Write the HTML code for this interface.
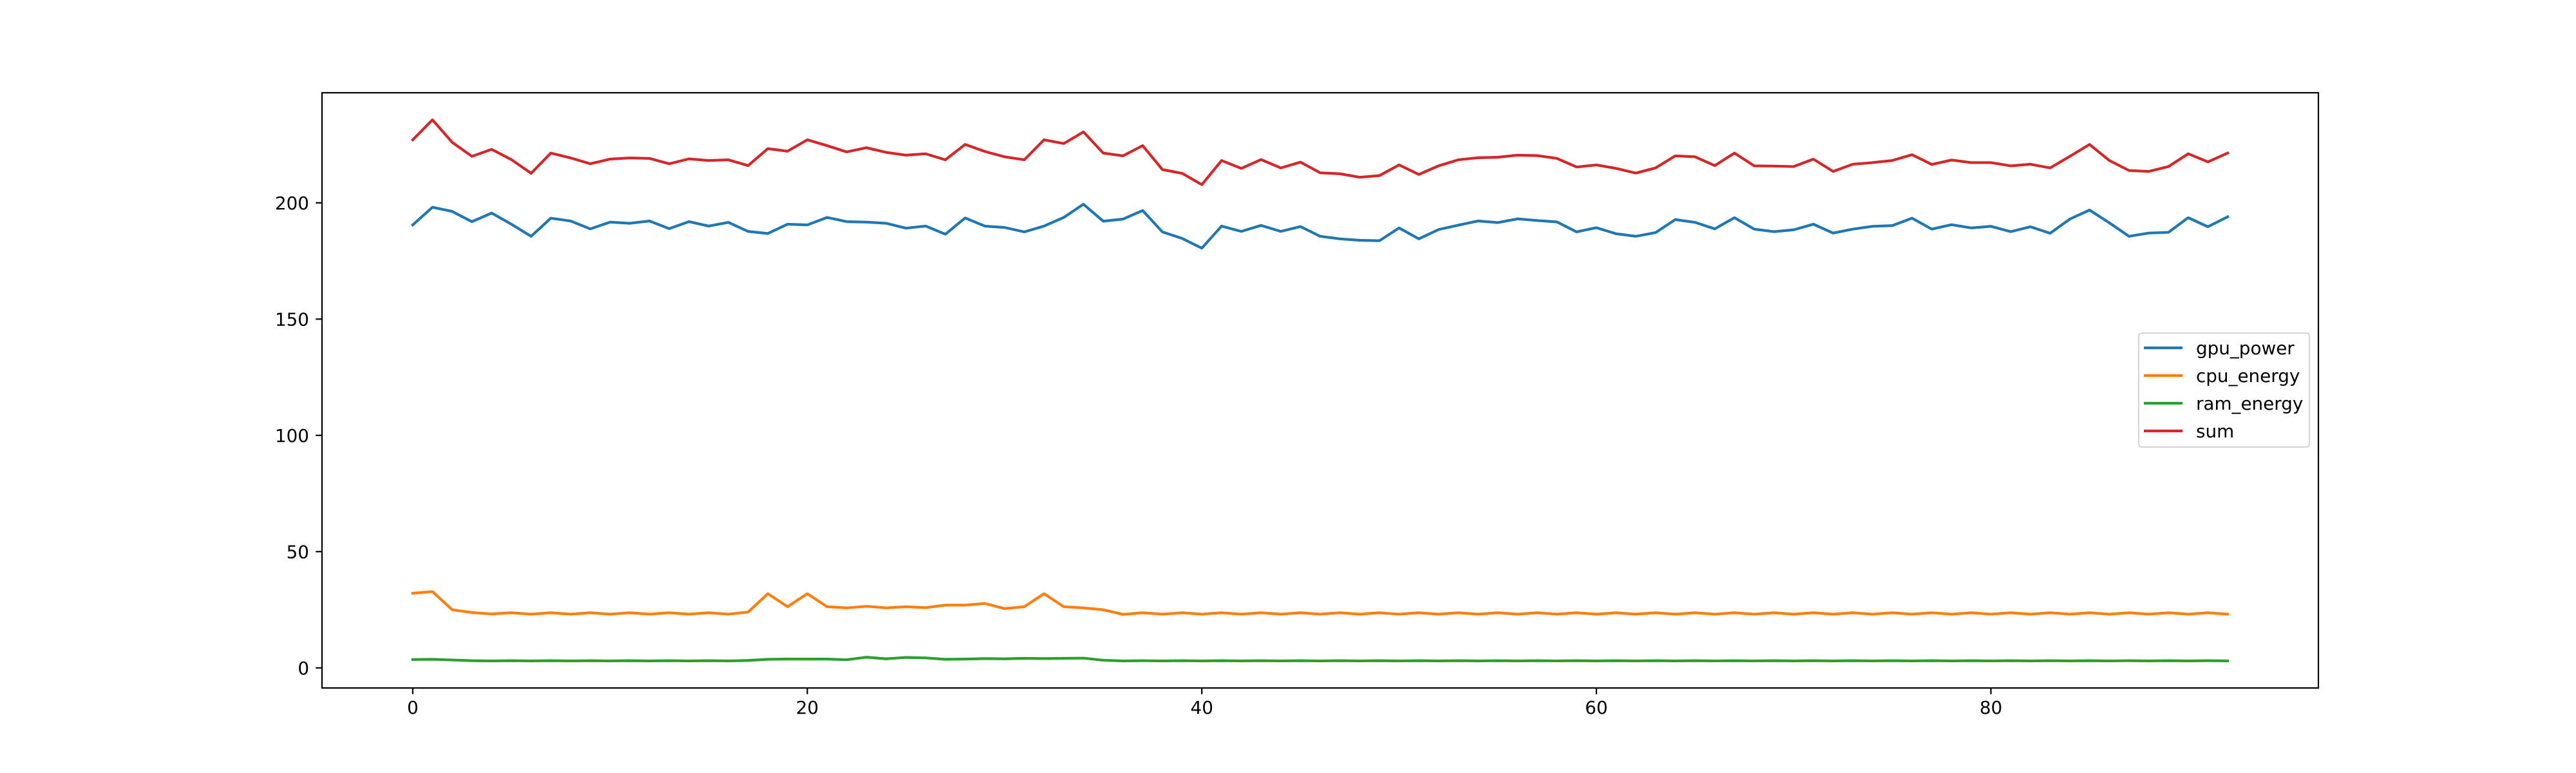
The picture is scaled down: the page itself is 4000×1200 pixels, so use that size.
<!DOCTYPE html>
<html><head><meta charset="utf-8"><style>
html,body{margin:0;padding:0;background:#fff;}
svg{display:block;font-family:"DejaVu Sans","Liberation Sans",sans-serif;}
</style></head><body>
<svg id="chart" width="4000" height="1200" viewBox="0 0 4000 1200" xmlns="http://www.w3.org/2000/svg">
<rect x="0" y="0" width="4000" height="1200" fill="#fff"/>
<g id="series"></g>
<g id="axes"></g>
<g id="legend"></g>
</svg>
<script>
const xTicks = [0, 20, 40, 60, 80];
const yTicks = [0, 50, 100, 150, 200];
const seriesNames = ["gpu_power", "cpu_energy", "ram_energy", "sum"];
const seriesColors = ["#1f77b4", "#ff7f0e", "#2ca02c", "#d62728"];
const gpuPower = [190.5,198.1,196.3,191.9,195.6,190.8,185.6,193.4,192.2,188.8,191.7,191.2,192.2,188.9,191.9,190,191.6,187.7,186.8,190.8,190.5,193.7,191.9,191.7,191.2,189.1,190,186.5,193.5,190,189.4,187.5,190,193.7,199.4,192.1,193,196.7,187.5,184.7,180.5,190,187.7,190.3,187.7,189.8,185.6,184.5,183.9,183.7,189.2,184.5,188.5,190.4,192.2,191.5,193.1,192.4,191.8,187.5,189.3,186.7,185.6,187.2,192.8,191.6,188.8,193.6,188.7,187.6,188.4,190.8,187,188.7,189.9,190.2,193.4,188.7,190.6,189.2,189.9,187.6,189.7,186.9,193,196.9,191.4,185.6,187,187.3,193.6,189.7,194];
const cpuEnergy = [32.1,32.8,25,23.8,23.2,23.7,23.1,23.7,23.1,23.7,23.1,23.7,23.1,23.7,23.1,23.7,23.1,24.0,31.9,26.3,31.9,26.3,25.8,26.5,25.8,26.3,25.9,27,27,27.7,25.5,26.3,31.9,26.3,25.8,25,23,23.7,23.1,23.7,23.1,23.7,23.1,23.7,23.1,23.7,23.1,23.7,23.1,23.7,23.1,23.7,23.1,23.7,23.1,23.7,23.1,23.7,23.1,23.7,23.1,23.7,23.1,23.7,23.1,23.7,23.1,23.7,23.1,23.7,23.1,23.7,23.1,23.7,23.1,23.7,23.1,23.7,23.1,23.7,23.1,23.7,23.1,23.7,23.1,23.7,23.1,23.7,23.1,23.7,23.1,23.7,23.1];
const ramEnergy = [3.6,3.7,3.4,3.1,3.0,3.1,3.0,3.1,3.0,3.1,3.0,3.1,3.0,3.1,3.0,3.1,3.0,3.2,3.7,3.8,3.8,3.8,3.5,4.6,3.9,4.5,4.3,3.7,3.8,4.0,3.9,4.1,4.0,4.1,4.2,3.3,3.0,3.1,3.0,3.1,3.0,3.1,3.0,3.1,3.0,3.1,3.0,3.1,3.0,3.1,3.0,3.1,3.0,3.1,3.0,3.1,3.0,3.1,3.0,3.1,3.0,3.1,3.0,3.1,3.0,3.1,3.0,3.1,3.0,3.1,3.0,3.1,3.0,3.1,3.0,3.1,3.0,3.1,3.0,3.1,3.0,3.1,3.0,3.1,3.0,3.1,3.0,3.1,3.0,3.1,3.0,3.1,3.0];
const sumValues = [227.1,235.7,226,220,223,218.6,212.7,221.4,219.3,216.8,218.8,219.3,219.1,216.8,218.9,218.2,218.5,216,223.3,222.2,227.1,224.6,221.9,223.7,221.7,220.5,221.1,218.5,225.1,222.1,219.8,218.5,227.1,225.5,230.5,221.4,220.2,224.6,214.3,212.7,207.8,218.2,214.8,218.6,215,217.5,212.9,212.5,211,211.7,216.3,212.2,215.9,218.5,219.4,219.6,220.5,220.3,219.1,215.4,216.3,214.8,212.8,215,220.2,219.8,216,221.4,215.9,215.8,215.6,218.8,213.5,216.6,217.3,218.2,220.7,216.5,218.4,217.3,217.3,215.9,216.6,215,220,225.1,218.2,213.9,213.5,215.6,221.1,217.6,221.4];
const allSeries = [gpuPower, cpuEnergy, ramEnergy, sumValues];

const NS = "http://www.w3.org/2000/svg";
const L = 500, R = 3600, T = 144, B = 1068;
const n = gpuPower.length;
const xMin = -0.05 * (n - 1), xMax = (n - 1) * 1.05;
let vMin = Infinity, vMax = -Infinity;
allSeries.forEach(s => s.forEach(v => { if (v < vMin) vMin = v; if (v > vMax) vMax = v; }));
const yMin = vMin - 0.05 * (vMax - vMin), yMax = vMax + 0.05 * (vMax - vMin);
function xScale(v) { return L + (v - xMin) / (xMax - xMin) * (R - L); }
function yScale(v) { return B - (v - yMin) / (yMax - yMin) * (B - T); }
function mk(tag, attrs, parent) {
  const e = document.createElementNS(NS, tag);
  for (const k in attrs) e.setAttribute(k, attrs[k]);
  parent.appendChild(e);
  return e;
}
const gS = document.getElementById("series");
const gA = document.getElementById("axes");
const gL = document.getElementById("legend");

allSeries.forEach((s, si) => {
  const d = s.map((v, i) => (i ? "L" : "M") + xScale(i).toFixed(2) + " " + yScale(v).toFixed(2)).join(" ");
  const p = mk("path", {d: d, fill: "none", stroke: seriesColors[si], "stroke-width": 4.2, "stroke-linejoin": "round", "stroke-linecap": "square"}, gS);
  
  
});

const frame = mk("rect", {x: L, y: T, width: R - L, height: B - T, fill: "none", stroke: "#000", "stroke-width": 2.2}, gA);



xTicks.forEach(t => {
  const x = xScale(t);
  const tk = mk("line", {x1: x, y1: B, x2: x, y2: B + 9.7, stroke: "#000", "stroke-width": 2.2}, gA);
  
  
  const tx = mk("text", {x: x, y: B + 40, "font-size": 27.8, "text-anchor": "middle", fill: "#000"}, gA);
  tx.textContent = t;
  
  
});
yTicks.forEach(t => {
  const y = yScale(t);
  const tk = mk("line", {x1: L - 9.7, y1: y, x2: L, y2: y, stroke: "#000", "stroke-width": 2.2}, gA);
  
  
  const tx = mk("text", {x: L - 20, y: y + 10, "font-size": 27.8, "text-anchor": "end", fill: "#000"}, gA);
  tx.textContent = t;
  
  
});

const box = mk("rect", {x: 3321, y: 517, width: 265, height: 177, rx: 5, fill: "#fff", "fill-opacity": 0.8, stroke: "#d6d6d6", "stroke-width": 2.2}, gL);


const rowY = [540, 583, 626, 669];
seriesNames.forEach((nm, i) => {
  const ln = mk("line", {x1: 3329, y1: rowY[i], x2: 3389, y2: rowY[i], stroke: seriesColors[i], "stroke-width": 4.2}, gL);
  
  
  const tx = mk("text", {x: 3410, y: rowY[i] + 10, "font-size": 27.8, fill: "#000"}, gL);
  tx.textContent = nm;
  
  
});
</script>
</body></html>
